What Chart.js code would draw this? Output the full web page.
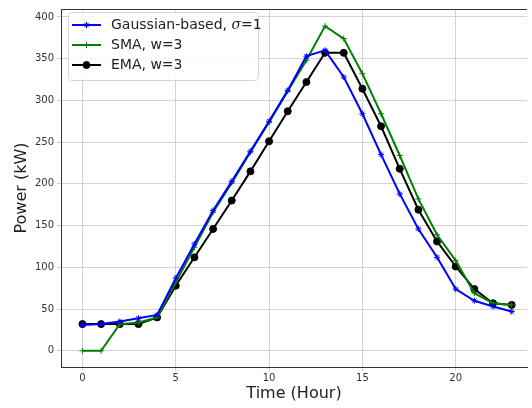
<!DOCTYPE html>
<html>
<head>
<meta charset="utf-8">
<script src="https://cdn.jsdelivr.net/npm/chart.js@4"></script>
<style>
  html, body { margin: 0; padding: 0; background: #fff; overflow: hidden; }
  #wrap { width: 532px; height: 408px; }
</style>
</head>
<body>
<div id="wrap"><canvas id="powerChart"></canvas></div>
<script>
const hours = [0,1,2,3,4,5,6,7,8,9,10,11,12,13,14,15,16,17,18,19,20,21,22,23];
const gaussian = [31,32,35,39,43,87,128,168,203,239,275,312,353,360,328,284,235,188,146,112,74,60,53,47];
const sma = [0,0,32,34,40,82,124,166,201,238,274,311,348,389,374,332,284,234,182,139,108,69,57,55];
const ema = [32,32,32,32,40,78,112,146,180,215,251,287,322,357,357,314,269,218,169,131,101,74,57,55];
const xTicks = [0,5,10,15,20];
const yTicks = [0,50,100,150,200,250,300,350,400];

const labels = ['Gaussian-based, σ=1', 'SMA, w=3', 'EMA, w=3'];
const colors = ['#0000ff', '#008000', '#000000'];

const toXY = vals => hours.map((h, i) => ({x: h, y: vals[i]}));

const frame = {
  id: 'frame',
  afterDraw(chart) {
    const {ctx, chartArea: a} = chart;
    ctx.save();
    ctx.strokeStyle = '#333';
    ctx.lineWidth = 1;
    ctx.beginPath();
    ctx.moveTo(a.left, a.top + 0.5);
    ctx.lineTo(a.right, a.top + 0.5);
    ctx.stroke();

    // legend box in the upper left corner
    const bx = 68, by = 12, bw = 190, bh = 68;
    ctx.fillStyle = 'rgba(255,255,255,0.85)';
    ctx.strokeStyle = '#d6d6d6';
    ctx.beginPath();
    ctx.roundRect(bx + 0.5, by + 0.5, bw, bh, 3);
    ctx.fill();
    ctx.stroke();

    const rows = [25, 45, 65];
    const styles = ['star', 'cross', 'circle'];
    rows.forEach((y, i) => {
      ctx.strokeStyle = colors[i];
      ctx.fillStyle = colors[i];
      ctx.lineWidth = 2;
      ctx.beginPath();
      ctx.moveTo(72, y);
      ctx.lineTo(101, y);
      ctx.stroke();
      ctx.lineWidth = 1;
      Chart.helpers.drawPoint(ctx, {
        pointStyle: styles[i], radius: i === 2 ? 3.5 : 3, rotation: 0, borderWidth: 1
      }, 86.5, y);
    });

    ctx.fillStyle = '#222';
    ctx.textBaseline = 'middle';
    ctx.textAlign = 'left';
    ctx.font = '14px "DejaVu Sans"';
    let t = 'Gaussian-based, ';
    ctx.fillText(t, 111, rows[0]);
    let x = 111 + ctx.measureText(t).width;
    ctx.font = 'italic 14px "DejaVu Serif"';
    ctx.fillText('σ', x, rows[0]);
    x += ctx.measureText('σ').width;
    ctx.font = '14px "DejaVu Sans"';
    ctx.fillText('=1', x, rows[0]);
    ctx.fillText(labels[1], 111, rows[1]);
    ctx.fillText(labels[2], 111, rows[2]);
    ctx.restore();
  }
};

new Chart(document.getElementById('powerChart'), {
  type: 'line',
  data: {
    datasets: [
      {
        label: labels[0],
        data: toXY(gaussian),
        borderColor: colors[0],
        backgroundColor: colors[0],
        borderWidth: 2,
        pointStyle: 'star',
        pointRadius: 3,
        pointBorderWidth: 1,
        tension: 0
      },
      {
        label: labels[1],
        data: toXY(sma),
        borderColor: colors[1],
        backgroundColor: colors[1],
        borderWidth: 2,
        pointStyle: 'cross',
        pointRadius: 3,
        pointBorderWidth: 1,
        tension: 0
      },
      {
        label: labels[2],
        data: toXY(ema),
        borderColor: colors[2],
        backgroundColor: colors[2],
        borderWidth: 2,
        pointStyle: 'circle',
        pointRadius: 3.5,
        pointBorderWidth: 1,
        tension: 0
      }
    ]
  },
  options: {
    responsive: true,
    maintainAspectRatio: false,
    animation: false,
    layout: {padding: {top: 5, right: 0, left: 0, bottom: 0}},
    plugins: {
      legend: {display: false},
      tooltip: {enabled: false}
    },
    scales: {
      x: {
        type: 'linear',
        min: -1.15,
        max: 23.82,
        afterBuildTicks: s => { s.ticks = xTicks.map(v => ({value: v})); },
        afterFit: s => { s.height = 41; },
        grid: {color: '#d3d3d3', lineWidth: 1, tickLength: 4, tickColor: '#d3d3d3'},
        border: {color: '#333', width: 1},
        ticks: {color: '#333', font: {family: 'DejaVu Sans', size: 10}, padding: 1, maxRotation: 0},
        title: {display: true, text: 'Time (Hour)', color: '#222', font: {family: 'DejaVu Sans', size: 16}, padding: {top: 0, bottom: 5}}
      },
      y: {
        type: 'linear',
        min: -19.4,
        max: 409.5,
        afterBuildTicks: s => { s.ticks = yTicks.map(v => ({value: v})); },
        afterFit: s => { s.width = 61; },
        grid: {color: '#d3d3d3', lineWidth: 1, tickLength: 4, tickColor: '#d3d3d3'},
        border: {color: '#333', width: 1},
        ticks: {color: '#333', font: {family: 'DejaVu Sans', size: 10}, padding: 3},
        title: {display: true, text: 'Power (kW)', color: '#222', font: {family: 'DejaVu Sans', size: 16}, padding: {top: 12, bottom: 0}}
      }
    }
  },
  plugins: [frame]
});
</script>
</body>
</html>
